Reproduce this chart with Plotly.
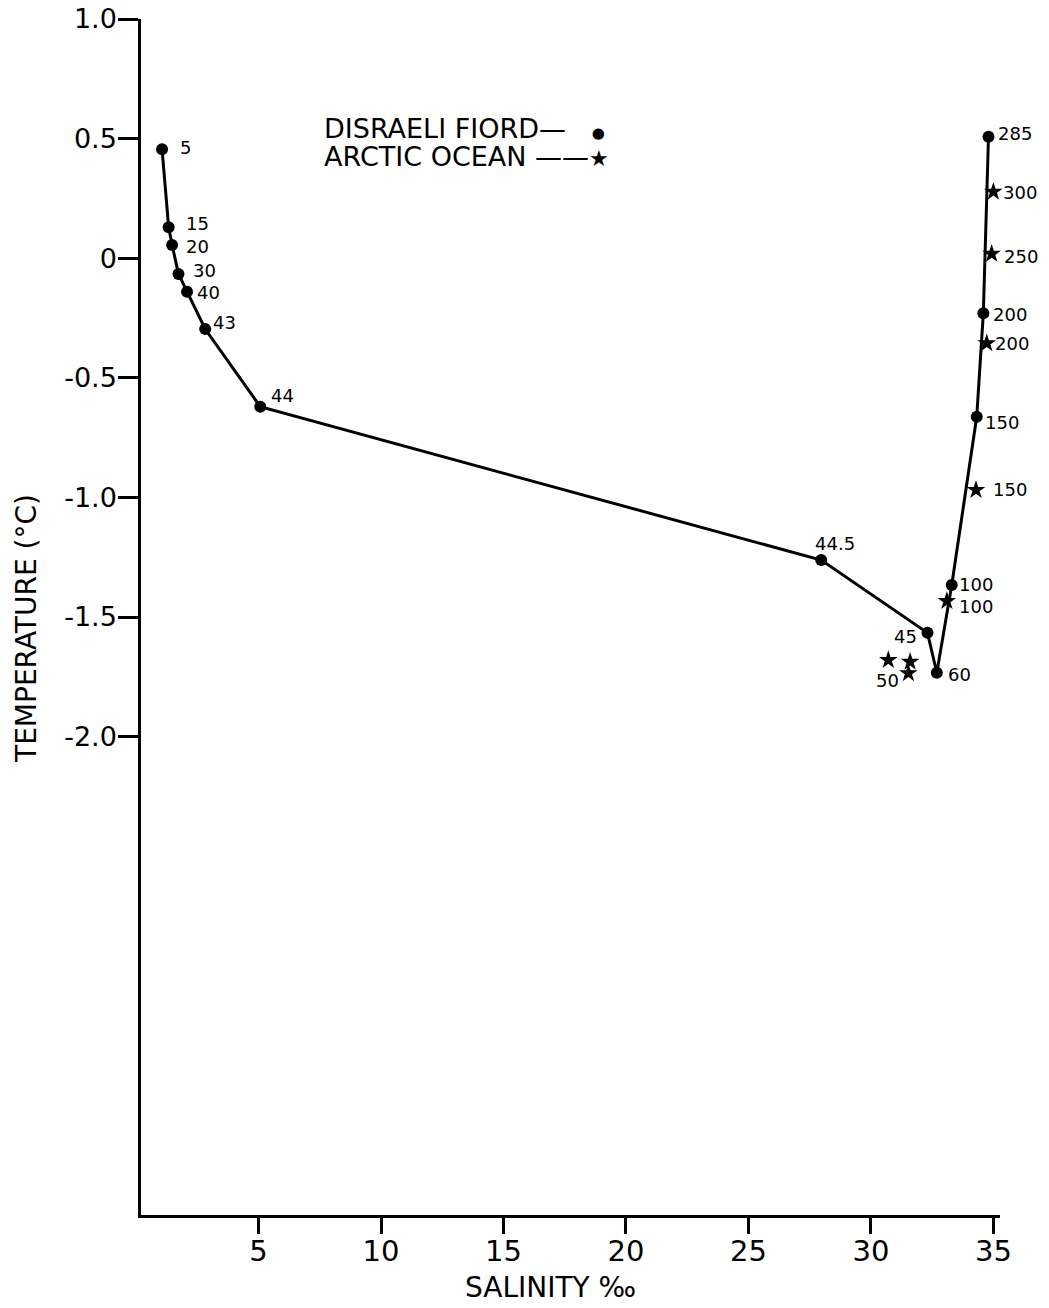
import plotly.graph_objects as go

# ---- data ----
fiord_depth = ["5", "15", "20", "30", "40", "43", "44", "44.5", "45", "60", "100", "150", "200", "285"]
fiord_salinity = [1.06, 1.33, 1.47, 1.73, 2.08, 2.82, 5.07, 27.97, 32.31, 32.69, 33.30, 34.32, 34.59, 34.80]
fiord_temp = [0.455, 0.129, 0.055, -0.066, -0.140, -0.296, -0.621, -1.262, -1.566, -1.733, -1.366, -0.663, -0.230, 0.508]

ocean_depth = ["300", "250", "200", "150", "100", "", "", "50"]
ocean_salinity = [35.00, 34.93, 34.73, 34.29, 33.10, 30.71, 31.60, 31.53]
ocean_temp = [0.278, 0.018, -0.356, -0.969, -1.433, -1.680, -1.687, -1.735]

x_ticks = [5, 10, 15, 20, 25, 30, 35]
x_ticklabels = ["5", "10", "15", "20", "25", "30", "35"]
y_ticks = [1.0, 0.5, 0.0, -0.5, -1.0, -1.5, -2.0]
y_ticklabels = ["1.0", "0.5", "0", "-0.5", "-1.0", "-1.5", "-2.0"]

# label placement (anchor, xshift px, yshift px)
fiord_label_pos = [
    ("left", 16, 2), ("left", 15, 4), ("left", 12, -1), ("left", 13, 3), ("left", 8, -1),
    ("left", 6, 7), ("left", 9, 11), ("center", 14, 17), ("right", -9, -4), ("left", 9, -2),
    ("left", 5, 0), ("left", 6, -6), ("left", 8, -1), ("left", 8, 3),
]
ocean_label_pos = [
    ("left", 8, -1), ("left", 10, -3), ("left", 6, 0), ("left", 15, 0), ("left", 10, -6),
    ("left", 0, 0), ("left", 0, 0), ("right", -7, -7),
]

FONT = "DejaVu Sans"
LABEL_SIZE = 18

fig = go.Figure()
fig.add_trace(go.Scatter(
    x=fiord_salinity, y=fiord_temp, mode="lines+markers",
    line=dict(color="black", width=3),
    marker=dict(symbol="circle", size=12, color="black"),
    showlegend=False, cliponaxis=False,
))
fig.add_trace(go.Scatter(
    x=ocean_salinity, y=ocean_temp, mode="markers",
    marker=dict(symbol="star", size=14, color="black"),
    showlegend=False, cliponaxis=False,
))

annotations = []
for s, t, lab, (anc, dx, dy) in zip(fiord_salinity, fiord_temp, fiord_depth, fiord_label_pos):
    annotations.append(dict(x=s, y=t, text=lab, showarrow=False, xanchor=anc, yanchor="middle",
                            xshift=dx, yshift=dy, font=dict(family=FONT, size=LABEL_SIZE, color="black")))
for s, t, lab, (anc, dx, dy) in zip(ocean_salinity, ocean_temp, ocean_depth, ocean_label_pos):
    if lab:
        annotations.append(dict(x=s, y=t, text=lab, showarrow=False, xanchor=anc, yanchor="middle",
                                xshift=dx, yshift=dy, font=dict(family=FONT, size=LABEL_SIZE, color="black")))

# legend (drawn as text)
annotations.append(dict(x=7.6, y=0.544,
                        text="DISRAELI FIORD\u2014   <span style='font-size:15px'>\u25CF</span>",
                        showarrow=False, xanchor="left", yanchor="middle",
                        font=dict(family=FONT, size=27, color="black")))
annotations.append(dict(x=7.6, y=0.424,
                        text="ARCTIC OCEAN \u2014\u2014<span style='font-size:22px'>\u2605</span>",
                        showarrow=False, xanchor="left", yanchor="middle",
                        font=dict(family=FONT, size=27, color="black")))

# axis titles
annotations.append(dict(xref="paper", yref="paper", x=0, y=0.49, xshift=-114, text="TEMPERATURE (\u00b0C)",
                        textangle=-90, showarrow=False, xanchor="center", yanchor="middle",
                        font=dict(family=FONT, size=28, color="black")))
annotations.append(dict(xref="paper", yref="paper", x=0.477, y=0, yshift=-72, text="SALINITY \u2030",
                        showarrow=False, xanchor="center", yanchor="middle",
                        font=dict(family=FONT, size=28, color="black")))

fig.update_layout(
    width=1049, height=1308,
    margin=dict(l=141, r=49, t=19, b=93, autoexpand=False),
    paper_bgcolor="white", plot_bgcolor="white",
    annotations=annotations,
    font=dict(family=FONT, color="black"),
)
fig.update_xaxes(
    range=[0.2, 35.27], showgrid=False, zeroline=False, automargin=False,
    showline=True, linecolor="black", linewidth=2.5,
    ticks="outside", ticklen=16, tickwidth=2.5, tickcolor="black",
    tickvals=x_ticks, ticktext=x_ticklabels, ticklabelstandoff=-8,
    tickfont=dict(family=FONT, size=29, color="black"),
)
fig.update_yaxes(
    range=[-4.0, 1.0], showgrid=False, zeroline=False, automargin=False,
    showline=True, linecolor="black", linewidth=2.5,
    ticks="outside", ticklen=20, tickwidth=2.5, tickcolor="black",
    tickvals=y_ticks, ticktext=y_ticklabels, ticklabelstandoff=-4,
    tickfont=dict(family=FONT, size=27, color="black"),
)

fig.write_html("out.html")
